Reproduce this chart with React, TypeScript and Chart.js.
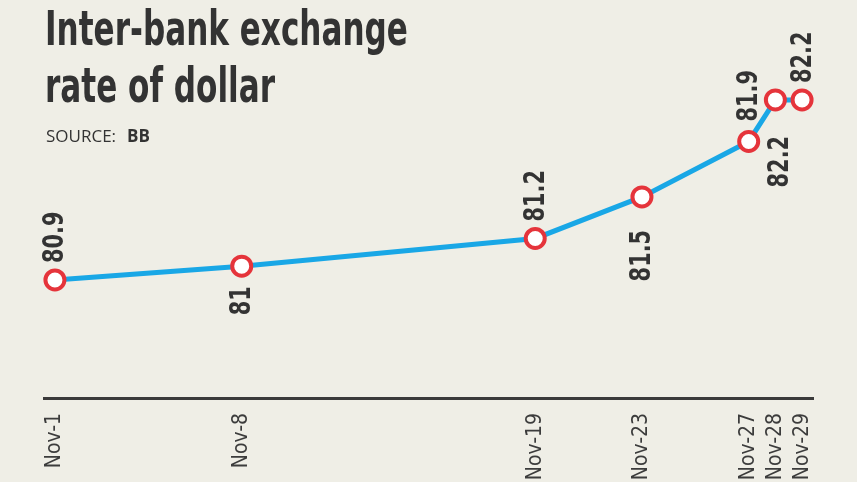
import { useEffect, useRef } from "react";
import { Chart, registerables } from "chart.js";

Chart.register(...registerables);

// ---- data ----
const days = [1, 8, 19, 23, 27, 28, 29];
const tickLabels = ["Nov-1", "Nov-8", "Nov-19", "Nov-23", "Nov-27", "Nov-28", "Nov-29"];
const rates = [80.9, 81, 81.2, 81.5, 81.9, 82.2, 82.2];
const valueLabels = ["80.9", "81", "81.2", "81.5", "81.9", "82.2", "82.2"];
const labelSides = ["above", "below", "above", "below", "above", "below", "above"];
// gap (px) between point centre and its value label
const labelGaps = [17, 20, 17, 33, 20, 36, 17];
const labelShiftX = [1, 1, 1, 1, 1, 5, 1];

const COND = '"Liberation Sans Narrow", "DejaVu Sans Condensed", "Roboto Condensed", "Liberation Sans", sans-serif';
const BG = "#efeee6";

const valueLabelPlugin = {
  id: "valueLabels",
  afterDatasetsDraw(chart: any) {
    const ctx = chart.ctx;
    const meta = chart.getDatasetMeta(0);
    const sx = 0.8;
    ctx.save();
    ctx.font = `bold 29px ${COND}`;
    ctx.fillStyle = "#333333";
    meta.data.forEach((pt: any, i: number) => {
      ctx.save();
      ctx.translate(pt.x + labelShiftX[i], pt.y);
      ctx.rotate(-Math.PI / 2);
      ctx.scale(sx, 1);
      ctx.textBaseline = "middle";
      if (labelSides[i] === "above") {
        ctx.textAlign = "left";
        ctx.fillText(valueLabels[i], labelGaps[i] / sx, 0);
      } else {
        ctx.textAlign = "right";
        ctx.fillText(valueLabels[i], -labelGaps[i] / sx, 0);
      }
      ctx.restore();
    });
    ctx.restore();
  },
};

export default function App() {
  const ref = useRef<HTMLCanvasElement | null>(null);

  useEffect(() => {
    document.body.style.margin = "0";
    const canvas = ref.current!;
    const chart = new Chart(canvas, {
      type: "line",
      data: {
        datasets: [
          {
            data: days.map((d, i) => ({ x: d, y: rates[i] })),
            borderColor: "#19a7e6",
            borderWidth: 5,
            pointRadius: 9.5,
            pointBorderWidth: 4,
            pointBackgroundColor: "#ffffff",
            pointBorderColor: "#e5343b",
            pointHoverRadius: 9.5,
            tension: 0,
            clip: false as any,
          },
        ],
      },
      options: {
        animation: false,
        responsive: false,
        maintainAspectRatio: false,
        events: [],
        layout: { padding: { left: 44, right: 44, top: 20, bottom: 0 } },
        plugins: {
          legend: { display: false },
          tooltip: { enabled: false },
          title: { display: false },
        },
        scales: {
          x: {
            type: "linear",
            min: 0.59,
            max: 29.41,
            afterBuildTicks: (s: any) => {
              s.ticks = days.map((v) => ({ value: v }));
            },
            afterFit: (s: any) => {
              s.height = 84;
            },
            ticks: {
              autoSkip: false,
              minRotation: 90,
              maxRotation: 90,
              padding: 15,
              color: "#3c3c3c",
              font: { family: COND, size: 21 },
              callback: (v: any) => tickLabels[days.indexOf(Number(v))] ?? "",
            },
            grid: { display: false, drawTicks: false },
            border: { display: true, color: "#3a3a3a", width: 3 },
          },
          y: {
            display: false,
            min: 80.048,
            max: 82.777,
          },
        },
      },
      plugins: [valueLabelPlugin],
    });
    return () => chart.destroy();
  }, []);

  return (
    <div
      style={{
        position: "fixed",
        left: 0,
        top: 0,
        width: 857,
        height: 482,
        background: BG,
        overflow: "hidden",
      }}
    >
      <canvas ref={ref} width={857} height={482} style={{ position: "absolute", left: 0, top: 0 }} />
      <div
        style={{
          position: "absolute",
          left: 45,
          top: 0,
          fontFamily: COND,
          fontWeight: "bold",
          fontSize: 48,
          lineHeight: "57px",
          color: "#333333",
          whiteSpace: "nowrap",
          transform: "scaleX(0.72)",
          transformOrigin: "0 0",
        }}
      >
        <div>Inter-bank exchange</div>
        <div>rate of dollar</div>
      </div>
      <div
        style={{
          position: "absolute",
          left: 46,
          top: 124,
          fontFamily: '"Open Sans", sans-serif',
          fontSize: 17,
          lineHeight: "23px",
          color: "#333333",
          whiteSpace: "nowrap",
        }}
      >
        SOURCE:<b style={{ marginLeft: 11 }}>BB</b>
      </div>
    </div>
  );
}
